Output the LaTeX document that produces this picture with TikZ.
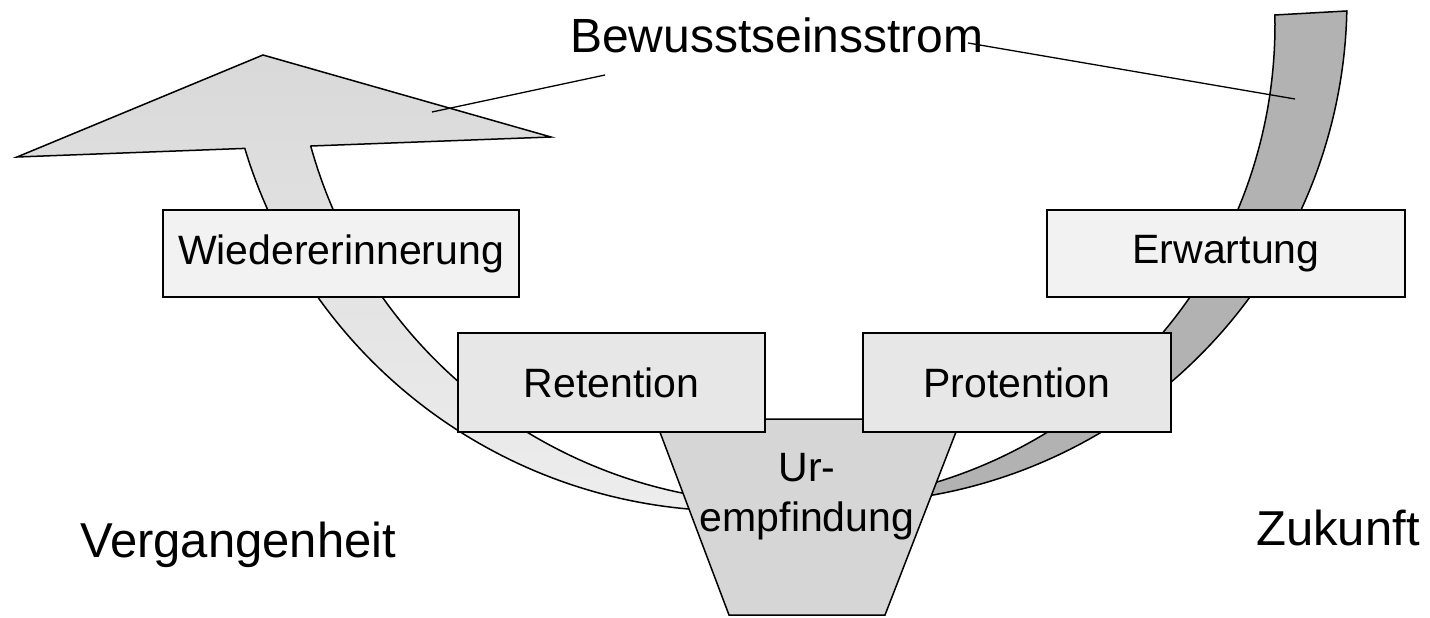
\documentclass[tikz,border=0pt]{standalone}
\usepackage{fontspec}
\setmainfont{Liberation Sans}
\definecolor{arrowtop}{gray}{0.85}
\definecolor{arrowbot}{gray}{0.93}
\definecolor{bandgray}{gray}{0.70}
\definecolor{trapgray}{gray}{0.84}
\definecolor{boxlight}{gray}{0.95}
\definecolor{boxmid}{gray}{0.905}
\begin{document}
\begin{tikzpicture}[x=1pt,y=-1pt,
  outline/.style={draw=black,line width=1.5pt,line join=miter},
  box/.style={outline,rectangle,inner sep=0pt,font=\fontsize{41pt}{49pt}\selectfont},
  bigtext/.style={inner sep=0pt,anchor=base west,font=\fontsize{49pt}{58pt}\selectfont},
  callout/.style={draw=black,line width=1.3pt}]
\useasboundingbox (0,0) rectangle (1430,618);
\fill[white] (0,0) rectangle (1430,618);

% left curved arrow (past)
\draw[outline,top color=arrowtop,bottom color=arrowbot]
  (17,157) -- (263,55) -- (551,137) -- (311,146)
  -- plot[domain=164.5:99.5,samples=70] ({780+487*cos(\x)},{16+487*sin(\x)})
  -- plot[domain=93.7:163.2,samples=70] ({733+510*cos(\x)},{1+510*sin(\x)})
  -- cycle;

% right curved band (future)
\draw[outline,fill=bandgray]
  plot[domain=-1.2:75.7,samples=70] ({797+478*cos(\x)},{25+478*sin(\x)})
  -- plot[domain=81.9:1.25,samples=70] ({844+503*cos(\x)},{503*sin(\x)})
  -- cycle;

% Urempfindung trapezoid
\draw[outline,fill=trapgray] (655,419) -- (961,419) -- (885,615) -- (729,615) -- cycle;
\node[align=center,inner sep=0pt,font=\fontsize{41pt}{50pt}\selectfont] (ur) at (807,496.5) {Ur-\\empfindung};

% boxes
\node[box,fill=boxlight,minimum width=356pt,minimum height=87pt] (wieder) at (341,253.5) {Wiedererinnerung};
\node[box,fill=boxlight,minimum width=358pt,minimum height=87pt] (erw) at (1226,253.5) {Erwartung};
\node[box,fill=boxmid,minimum width=307pt,minimum height=99pt] (ret) at (611.5,382.5) {Retention};
\node[box,fill=boxmid,minimum width=308pt,minimum height=99pt] (pro) at (1017,382.5) {Protention};

% labels
\node[bigtext,font=\fontsize{48pt}{58pt}\selectfont] (title) at (570,53) {Bewusstseinsstrom};
\node[bigtext] (verg) at (80,557) {Vergangenheit};
\node[bigtext] (zuk) at (1256,545) {Zukunft};

% callout lines
\coordinate (c1s) at (605,75);
\coordinate (c1e) at (432,112);
\coordinate (c2s) at (968,43);
\coordinate (c2e) at (1295,99);
\draw[callout] (c1s) -- (c1e);
\draw[callout] (c2s) -- (c2e);
\end{tikzpicture}
\end{document}
